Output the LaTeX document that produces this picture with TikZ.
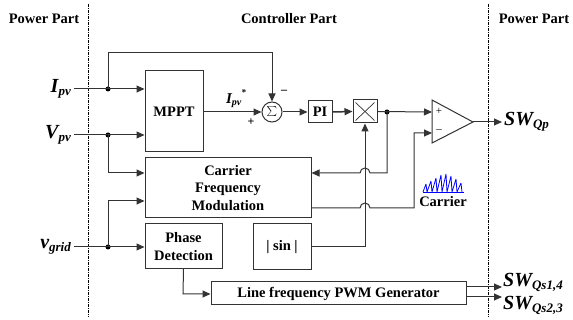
\documentclass[tikz,border=0pt]{standalone}
\usepackage{fontspec}
\setmainfont{Liberation Serif}
\usetikzlibrary{arrows.meta,calc}
\begin{document}
\begin{tikzpicture}[x=1pt,y=-1pt,
  line/.style={draw=black!80,line width=1pt},
  arr/.style={line,-{Triangle[length=8pt,width=7pt]}},
  blk/.style={draw=black!80,line width=1pt,rectangle,inner sep=0pt,font=\fontsize{14.5}{17.5}\selectfont\bfseries,align=center},
  jdot/.style={circle,fill=black,inner sep=0pt,minimum size=5pt},
  sepline/.style={draw=black,line width=0.8pt,dash pattern=on 3pt off 1pt on 1pt off 1pt},
  ttl/.style={font=\fontsize{14.5}{17}\selectfont\bfseries},
  sig/.style={inner sep=0pt,font=\bfseries\itshape},
]
\useasboundingbox (0,0) rectangle (573,320);

% separators
\draw[sepline] (88,4) -- (88,317);
\draw[sepline] (488,4) -- (488,317);
\node[ttl] (t1) at (44,19) {Power Part};
\node[ttl] (t2) at (289,19) {Controller Part};
\node[ttl] (t3) at (534,19) {Power Part};

% blocks
\node[blk,minimum width=58pt,minimum height=81pt] (mppt) at (174,111.5) {MPPT};
\node[blk,minimum width=166pt,minimum height=60pt] (cfm) at (228,188) {Carrier\\Frequency\\Modulation};
\node[blk,minimum width=77pt,minimum height=45pt] (pd) at (183.5,246.5) {Phase\\Detection};
\node[blk,minimum width=58pt,minimum height=46pt] (sin) at (282,247) {| sin |};
\node[blk,minimum width=255pt,minimum height=23pt] (pwm) at (338.5,293.5) {Line frequency PWM Generator};
\node[draw=black!80,line width=1pt,circle,minimum size=20pt,inner sep=0pt] (sum) at (272,112) {\fontsize{13}{13}\selectfont$\textstyle\sum$};
\node[blk,minimum width=24pt,minimum height=22pt] (pi) at (320,112) {PI};
\node[blk,minimum width=24pt,minimum height=23pt] (mul) at (365,111.5) {};
\draw[line,line width=0.7pt] ($(mul.north west)+(3,3)$) -- ($(mul.south east)+(-3,-3)$);
\draw[line,line width=0.7pt] ($(mul.south west)+(3,-3)$) -- ($(mul.north east)+(-3,3)$);

% comparator
\coordinate (ctop) at (432,100);
\coordinate (cbot) at (432,143);
\coordinate (cout) at (473,122);
\coordinate (cp) at (432,112);
\coordinate (cm) at (432,133);
\draw[line] (ctop) -- (cout) -- (cbot) -- cycle;
\node[inner sep=0pt,font=\fontsize{11}{11}\selectfont] (plus) at (439,111) {+};
\node[inner sep=0pt,font=\fontsize{11}{11}\selectfont] (minus) at (439,131) {--};

% input labels
\node[sig,anchor=east] (lipv) at (71,89) {{\fontsize{20}{20}\selectfont I}\raisebox{-3pt}{\fontsize{13}{13}\selectfont pv}};
\node[sig,anchor=east] (lvpv) at (71,135) {{\fontsize{20}{20}\selectfont V}\raisebox{-3pt}{\fontsize{13}{13}\selectfont pv}};
\node[sig,anchor=east] (lvg) at (71,247) {{\fontsize{20}{20}\selectfont v}\raisebox{-3pt}{\fontsize{13}{13}\selectfont grid}};

\coordinate (s1) at (74,89);
\coordinate (s2) at (74,135);
\coordinate (s3) at (74,247);
\node[jdot] (d1) at (108,89) {};
\node[jdot] (d2) at (108,135) {};
\node[jdot] (d3) at (108,247) {};

\draw[arr] (s1) -- (mppt.west |- s1);
\draw[arr] (s2) -- (mppt.west |- s2);
\draw[arr] (s3) -- (pd.west |- s3);
\draw[arr] (d1.center) -- (108,53) -- (sum.north |- 0,53) -- (sum.north);
\draw[arr] (d2.center) -- (108,173) -- (cfm.west |- 0,173);
\draw[arr] (d3.center) -- (108,201) -- (cfm.west |- 0,201);

% MPPT to sum
\draw[arr] (mppt.east |- sum.west) -- (sum.west);
\node[sig] (lref) at (236,99) {{\fontsize{15}{15}\selectfont I}\raisebox{-2pt}{\fontsize{10}{10}\selectfont pv}\raisebox{8pt}{\fontsize{9}{9}\selectfont *}};
\node[inner sep=0pt,font=\fontsize{12}{12}\selectfont\bfseries] (sp) at (251,122) {+};
\node[inner sep=0pt,font=\fontsize{12}{12}\selectfont\bfseries] (sm) at (284,92) {--};

\draw[arr] (sum.east) -- (pi.west);
\draw[arr,line width=1.5pt] (pi.east) -- (mul.west);

% multiplier to comparator
\node[jdot] (d4) at (387,112) {};
\draw[arr] (mul.east) -- (cp);
\draw[arr] (d4.center) -- (387,173) -- (370,173) arc[start angle=0,end angle=180,radius=5pt] -- (cfm.east |- 0,173);
\draw[arr] (cfm.east |- 0,208) -- (360,208) arc[start angle=180,end angle=0,radius=5pt] -- (414,208) -- (414,133) -- (cm);
\draw[arr] (sin.east) -- (mul.south |- sin.east) -- (mul.south);
\draw[arr] (pd.south |- 0,269) -- (183,294) -- (pwm.west |- 0,294);

% outputs
\draw[arr] (cout) -- (502,122);
\node[sig,anchor=west] (lqp) at (504,122) {{\fontsize{20}{20}\selectfont SW}\raisebox{-3pt}{\fontsize{13}{13}\selectfont Qp}};
\draw[arr] (pwm.east |- 0,287) -- (502,287);
\draw[arr] (pwm.east |- 0,297) -- (502,297);
\node[sig,anchor=base west] (lq14) at (503,287) {{\fontsize{20}{20}\selectfont SW}\raisebox{-3pt}{\fontsize{13}{13}\selectfont Qs1,4}};
\node[sig,anchor=base west] (lq23) at (503,309) {{\fontsize{20}{20}\selectfont SW}\raisebox{-3pt}{\fontsize{13}{13}\selectfont Qs2,3}};

% carrier waveform
\draw[blue,line width=0.8pt] (423,192) -- (464,192);
\draw[blue,line width=0.8pt,line join=bevel] (423,192) -- (426,184) -- (427,192) -- (431,181) -- (432,192) -- (436,178) -- (437,192) -- (441,175) -- (442,192) -- (446,174) -- (447,192) -- (451,176) -- (452,192) -- (456,179) -- (457,192) -- (461,183) -- (462,192);
\node[ttl] (lcar) at (443,202) {Carrier};
\end{tikzpicture}
\end{document}
